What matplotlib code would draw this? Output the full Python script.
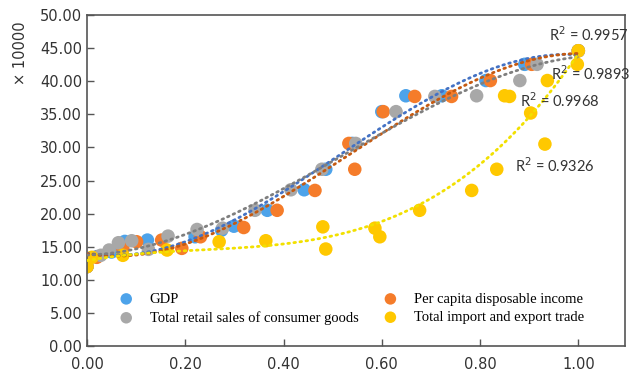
import numpy as np
import matplotlib.pyplot as plt

# values (x normalised, y in units of 10000)
gdp_x = [0.0, 0.02, 0.05, 0.077, 0.123, 0.22, 0.274, 0.299, 0.367, 0.442, 0.486,
         0.54, 0.60, 0.649, 0.722, 0.812, 0.891, 1.0]
gdp_y = [12.0, 13.5, 14.2, 15.8, 16.0, 16.5, 17.5, 18.1, 20.5, 23.6, 26.7,
         30.6, 35.4, 37.8, 37.8, 40.1, 42.55, 44.6]

inc_x = [0.0, 0.02, 0.073, 0.101, 0.152, 0.193, 0.231, 0.319, 0.387, 0.464, 0.545,
         0.533, 0.603, 0.667, 0.742, 0.821, 0.905, 1.0]
inc_y = [12.0, 13.4, 14.7, 15.75, 16.0, 14.75, 16.5, 17.9, 20.5, 23.5, 26.7,
         30.6, 35.4, 37.7, 37.7, 40.1, 42.55, 44.6]

ret_x = [0.0, 0.028, 0.045, 0.064, 0.091, 0.125, 0.165, 0.224, 0.276, 0.342, 0.415,
         0.478, 0.547, 0.629, 0.708, 0.793, 0.881, 0.916, 1.0]
ret_y = [12.0, 13.7, 14.5, 15.6, 15.9, 14.6, 16.6, 17.6, 17.8, 20.5, 23.6,
         26.7, 30.6, 35.4, 37.7, 37.8, 40.1, 42.55, 44.6]

trd_x = [0.0, 0.01, 0.073, 0.163, 0.269, 0.364, 0.486, 0.48, 0.586, 0.596,
         0.677, 0.783, 0.834, 0.932, 0.903, 0.85, 0.86, 0.937, 0.998, 1.0]
trd_y = [12.0, 13.4, 13.7, 14.5, 15.75, 15.9, 14.65, 18.0, 17.8, 16.5,
         20.5, 23.5, 26.7, 30.5, 35.2, 37.8, 37.7, 40.1, 42.55, 44.6]

labels = ['GDP', 'Per capita disposable income',
          'Total retail sales of consumer goods', 'Total import and export trade']
r2_text = ['0.9957', '0.9893', '0.9968', '0.9326']

fig = plt.figure(figsize=(6.34, 3.75), dpi=100)
ax = fig.add_axes([0.1372, 0.0773, 0.8486, 0.8827])

series = [(gdp_x, gdp_y, '#4da3ea', '#4472c4'),
          (inc_x, inc_y, '#f57c2a', '#c55a11'),
          (ret_x, ret_y, '#a8a8a8', '#7f7f7f'),
          (trd_x, trd_y, '#ffc800', '#f2e000')]

handles = []
xs = np.linspace(0, 1, 200)
for (x, y, c, lc), lab in zip(series, labels):
    h = ax.scatter(x, y, s=95, color=c, edgecolors='none', zorder=2, label=lab)
    handles.append(h)
    # cubic trend line like the excel one
    p = np.polyfit(x, y, 3)
    ax.plot(xs, np.polyval(p, xs), color=lc, lw=2,
            linestyle=(0, (0.6, 1.6)), dash_capstyle='round', zorder=3)

# R^2 labels
r2_pos = [(0.94, 47.0), (0.944, 41.1), (0.881, 37.0), (0.871, 27.3)]
for (tx, ty), t in zip(r2_pos, r2_text):
    ax.text(tx, ty, 'R$^2$ = ' + t, fontsize=10.5, family='Lato',
            color='#333333', ha='left', va='center', zorder=4)

ax.set_xlim(0, 1.095)
ax.set_ylim(0, 50)
ax.set_xticks(np.arange(0, 1.01, 0.2))
ax.set_yticks(np.arange(0, 50.1, 5))
ax.set_xticklabels([f'{v:.2f}' for v in np.arange(0, 1.01, 0.2)])
ax.set_yticklabels([f'{v:.2f}' for v in np.arange(0, 50.1, 5)])
ax.tick_params(direction='in', length=5, width=1, colors='#555555',
               labelcolor='#333333', labelsize=10.5, top=False, right=False)
ax.tick_params(axis='x', pad=8)
for s in ax.spines.values():
    s.set_color('#555555')
    s.set_linewidth(1.2)

fig.text(0.032, 0.858, '× 10000', rotation=90, fontsize=10.5,
         color='#333333', ha='center', va='center')

# legend order: row1 GDP / Per capita, row2 retail / trade
ax.legend(handles=[handles[0], handles[2], handles[1], handles[3]],
          labels=[labels[0], labels[2], labels[1], labels[3]],
          ncol=2, loc='lower left', bbox_to_anchor=(0.035, 0.025),
          frameon=False, prop={'family': 'Liberation Serif', 'size': 10.5},
          scatterpoints=1, handlelength=1.0, handletextpad=1.1,
          columnspacing=1.7, labelspacing=0.35, markerscale=0.85)

fig.savefig('out.png', dpi=100)
